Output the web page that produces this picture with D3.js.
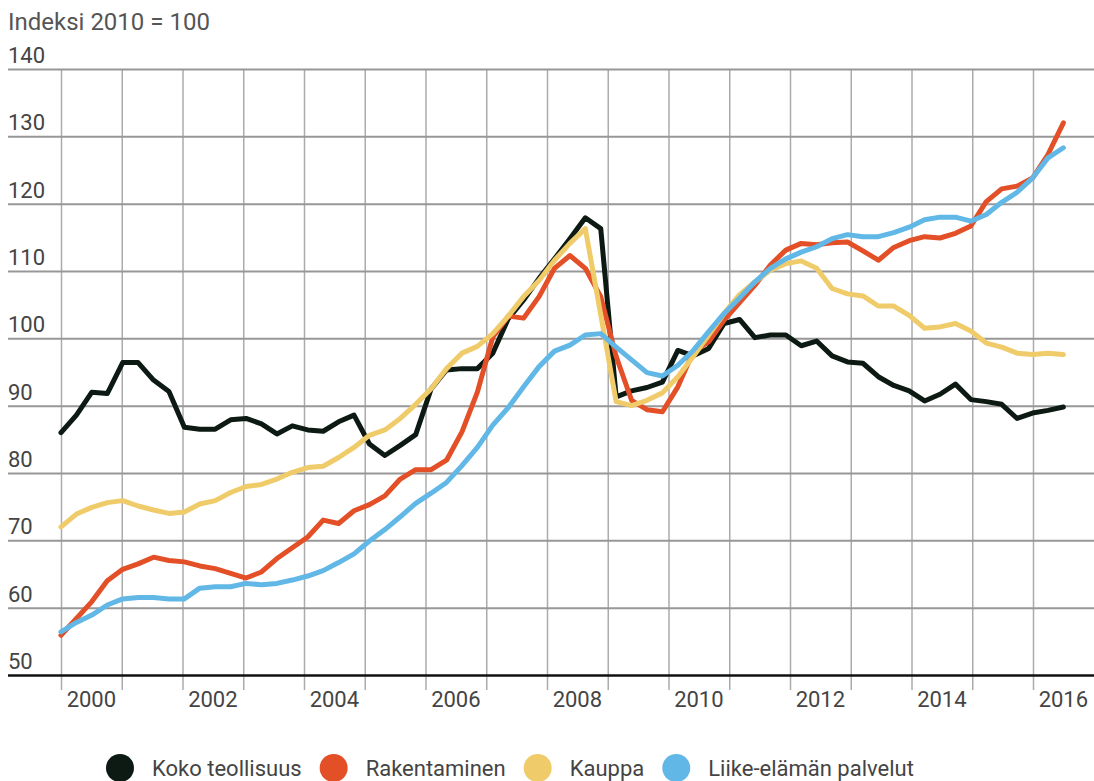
<!DOCTYPE html>
<html>
<head>
<meta charset="utf-8">
<script src="https://cdn.jsdelivr.net/npm/d3@7"></script>
<style>
  body { margin: 0; background: #fff; }
  svg { display: block; font-family: Roboto, "Noto Sans", sans-serif; }
</style>
</head>
<body>
<div id="chart"></div>
<script>
// neljännesvuosittain 2000Q1 - 2016Q2, indeksi 2010 = 100
const sarjat = ["Koko teollisuus", "Rakentaminen", "Kauppa", "Liike-elämän palvelut"];
const varit = ["#0c1a13", "#e34f26", "#f0cb69", "#61b7e6"];

const teollisuus = [86.0, 88.6, 92.0, 91.8, 96.4, 96.4, 93.8, 92.1, 86.8, 86.5, 86.5, 87.9, 88.1, 87.3, 85.8, 87.0,
  86.4, 86.2, 87.6, 88.6, 84.3, 82.6, 84.1, 85.7, 92.5, 95.3, 95.5, 95.5, 97.8, 102.9, 105.7, 108.9,
  111.8, 114.8, 117.9, 116.3, 91.3, 92.2, 92.7, 93.5, 98.2, 97.4, 98.5, 102.2, 102.8, 100.1, 100.5, 100.5,
  98.9, 99.6, 97.4, 96.5, 96.3, 94.3, 93.0, 92.2, 90.7, 91.7, 93.2, 90.9, 90.6, 90.2, 88.1, 88.9, 89.3, 89.8];
const rakentaminen = [55.9, 58.4, 60.9, 64.0, 65.7, 66.5, 67.5, 67.0, 66.8, 66.2, 65.8, 65.1, 64.4, 65.3, 67.3, 68.9,
  70.5, 73.0, 72.5, 74.4, 75.3, 76.6, 79.1, 80.5, 80.5, 81.9, 86.1, 92.0, 100.2, 103.3, 103.0, 106.2,
  110.4, 112.3, 110.4, 106.2, 97.3, 90.8, 89.4, 89.1, 92.8, 98.0, 99.5, 102.7, 105.3, 107.9, 110.9, 113.1,
  114.1, 113.9, 114.2, 114.3, 113.0, 111.6, 113.5, 114.5, 115.1, 114.9, 115.6, 116.7, 120.3, 122.2, 122.6, 123.8, 127.3, 132.0];
const kauppa = [72.0, 73.9, 74.9, 75.6, 75.9, 75.1, 74.5, 74.0, 74.2, 75.4, 75.9, 77.1, 78.0, 78.3, 79.1, 80.1,
  80.8, 81.0, 82.3, 83.8, 85.6, 86.4, 88.1, 90.2, 92.5, 95.5, 97.8, 98.8, 100.7, 103.3, 106.2, 108.6,
  111.6, 114.1, 116.3, 103.5, 90.6, 90.0, 90.8, 91.9, 94.3, 97.3, 100.5, 103.7, 106.5, 108.4, 110.1, 111.1,
  111.5, 110.4, 107.4, 106.6, 106.3, 104.8, 104.8, 103.4, 101.5, 101.7, 102.2, 101.1, 99.3, 98.7, 97.8, 97.6, 97.8, 97.6];
const palvelut = [56.4, 57.8, 58.9, 60.4, 61.3, 61.5, 61.5, 61.3, 61.3, 62.9, 63.1, 63.1, 63.6, 63.4, 63.6, 64.1,
  64.7, 65.5, 66.7, 68.0, 69.9, 71.6, 73.5, 75.5, 77.0, 78.6, 81.1, 83.8, 87.1, 89.7, 92.8, 95.8,
  98.1, 99.0, 100.5, 100.7, 98.7, 96.8, 94.9, 94.4, 96.0, 98.2, 101.0, 103.7, 106.0, 108.4, 110.4, 111.8,
  112.8, 113.6, 114.8, 115.4, 115.1, 115.1, 115.7, 116.5, 117.6, 118.0, 118.0, 117.4, 118.4, 120.2, 121.7, 123.8, 126.8, 128.3];

const vuodet = d3.range(2000, 2017);
const vuosiNimet = [2000, 2002, 2004, 2006, 2008, 2010, 2012, 2014, 2016];
const yTikit = [50, 60, 70, 80, 90, 100, 110, 120, 130, 140];
const otsikko = "Indeksi 2010 = 100";

const width = 1094, height = 781;
const left = 8;

const svg = d3.select("#chart").append("svg")
  .attr("width", width)
  .attr("height", height);

const x = d3.scaleLinear().domain([2000, 2017]).range([61, 1093.75]);
const xi = d3.scaleLinear().domain([0, teollisuus.length - 1]).range([x(2000), x(2016.5)]);
const y = d3.scaleLinear().domain([50, 140]).range([675, 69]);

// pystyviivat
const gx = svg.append("g")
  .attr("transform", `translate(0,${y(140)})`)
  .call(d3.axisBottom(x).tickValues(vuodet).tickSize(690 - y(140)).tickFormat(""));
gx.select(".domain").remove();
gx.selectAll(".tick line").attr("stroke", "#ababab").attr("stroke-width", 1.5);

// vaakaviivat
const gy = svg.append("g")
  .attr("transform", `translate(${left},0)`)
  .call(d3.axisRight(y).tickValues(yTikit).tickSize(width - left).tickFormat(""));
gy.select(".domain").remove();
gy.selectAll(".tick line")
  .attr("stroke", d => d === 50 ? "#111" : "#979797")
  .attr("stroke-width", d => d === 50 ? 2.5 : 2);

svg.append("g").selectAll("text")
  .data(yTikit)
  .join("text")
  .attr("x", left)
  .attr("y", d => y(d) - 6)
  .attr("font-size", 22)
  .attr("fill", "#444")
  .text(d => d);

svg.append("g").selectAll("text")
  .data(vuosiNimet)
  .join("text")
  .attr("x", d => (x(d) + x(d + 1)) / 2)
  .attr("y", 707)
  .attr("text-anchor", "middle")
  .attr("font-size", 22)
  .attr("fill", "#444")
  .text(d => d);

svg.append("text")
  .attr("x", left)
  .attr("y", 30)
  .attr("font-size", 24)
  .attr("fill", "#555")
  .text(otsikko);

const line = d3.line()
  .x((d, i) => xi(i))
  .y(d => y(d));

[teollisuus, rakentaminen, kauppa, palvelut].forEach((s, k) => {
  svg.append("path")
    .datum(s)
    .attr("fill", "none")
    .attr("stroke", varit[k])
    .attr("stroke-width", 5)
    .attr("stroke-linejoin", "round")
    .attr("stroke-linecap", "round")
    .attr("d", line);
});

// selite
const selite = svg.append("g");
let lx = 106;
sarjat.forEach((nimi, k) => {
  selite.append("circle")
    .attr("cx", lx + 14)
    .attr("cy", 768)
    .attr("r", 14)
    .attr("fill", varit[k]);
  const t = selite.append("text")
    .attr("x", lx + 46)
    .attr("y", 776)
    .attr("font-size", 22)
    .attr("fill", "#444")
    .text(nimi);
  lx += 46 + t.node().getComputedTextLength() + 18;
});
</script>
</body>
</html>
